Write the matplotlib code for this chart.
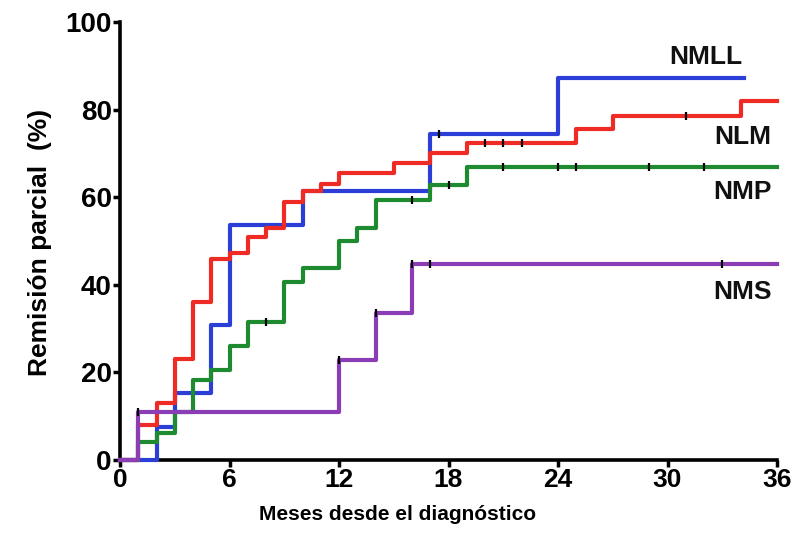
import numpy as np
import matplotlib
matplotlib.use("Agg")
import matplotlib.pyplot as plt

# ---- data ----
nmll_t = [0, 2, 3, 5, 6, 10, 17, 24, 34.2]
nmll_v = [0, 7.5, 15.2, 30.8, 53.7, 61.5, 74.4, 87.2, 87.2]

nlm_t = [0, 1, 2, 3, 4, 5, 6, 7, 8, 9, 10, 11, 12, 15, 17, 19, 25, 27, 34, 36]
nlm_v = [0, 8, 13, 23, 36, 46, 47.2, 51, 53, 59, 61.5, 63, 65.5, 67.8, 70, 72.4, 75.5, 78.5, 82, 82]

nmp_t = [0, 1, 2, 3, 4, 5, 6, 7, 9, 10, 12, 13, 14, 17, 19, 36]
nmp_v = [0, 4.2, 6.1, 11, 18.3, 20.5, 26, 31.5, 40.7, 43.8, 50, 53, 59.4, 62.8, 67, 67]

nms_t = [0, 1, 12, 14, 16, 36]
nms_v = [0, 11, 22.8, 33.5, 44.8, 44.8]

# censored observations (months)
nmll_c = [17.5]
nlm_c = [20, 21, 22, 31]
nmp_c = [8, 16, 18, 21, 24, 25, 29, 32]
nms_c = [1, 12, 14, 16, 17, 33]

names = ["NMLL", "NLM", "NMP", "NMS"]
colors = ["#2b3fd6", "#ee2b25", "#1f8b31", "#8b3db5"]

x_ticks = [0, 6, 12, 18, 24, 30, 36]
y_ticks = [0, 20, 40, 60, 80, 100]

plt.rcParams["font.family"] = ["Liberation Sans", "DejaVu Sans"]

fig = plt.figure(figsize=(7.94, 5.52), dpi=100)
ax = fig.add_axes([120 / 794, 1 - 460 / 552, 657 / 794, 438 / 552])

series = [(nmll_t, nmll_v, nmll_c), (nlm_t, nlm_v, nlm_c), (nmp_t, nmp_v, nmp_c), (nms_t, nms_v, nms_c)]
for (t, v, c), col in zip(series, colors):
    ax.step(t, v, where="post", color=col, lw=3.0, clip_on=False, zorder=3)
    ta = np.asarray(t)
    va = np.asarray(v)
    idx = np.searchsorted(ta, c, side="right") - 1
    ax.plot(c, va[idx], ls="none", marker="|", ms=6, mew=1.6, color="black", zorder=4, clip_on=False)

ax.set_xlim(0, 36)
ax.set_ylim(0, 100)
ax.set_xticks(x_ticks)
ax.set_yticks(y_ticks)
ax.set_xticklabels([str(x) for x in x_ticks], fontweight="bold", fontsize=19)
ax.set_yticklabels([str(y) for y in y_ticks], fontweight="bold", fontsize=20)
ax.tick_params(direction="out", length=5, width=2.5, pad=1, colors="black")

for s in ["top", "right"]:
    ax.spines[s].set_visible(False)
for s in ["left", "bottom"]:
    ax.spines[s].set_linewidth(2.6)
    ax.spines[s].set_capstyle("projecting")

ax.set_xlabel("Meses desde el diagnóstico", fontweight="bold", fontsize=15)
ax.xaxis.set_label_coords((398 - 120) / 657, -0.103)
ax.set_ylabel("Remisión parcial  (%)", fontweight="bold", fontsize=19)
ax.yaxis.set_label_coords(-0.104, 0.497)

label_pos = [(0.948, 0.920), (0.992, 0.737), (0.992, 0.612), (0.992, 0.384)]
for name, (lx, ly) in zip(names, label_pos):
    ax.text(lx, ly, name, transform=ax.transAxes, ha="right", va="center",
            fontweight="bold", fontsize=19, color="#111111")

fig.savefig("out.png", dpi=100)
